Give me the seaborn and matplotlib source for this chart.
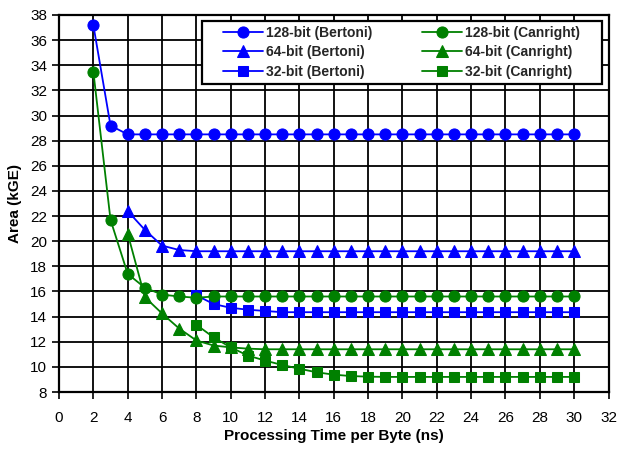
import numpy as np
import pandas as pd
import matplotlib
matplotlib.use("Agg")
import matplotlib.pyplot as plt
from matplotlib.path import Path
import seaborn as sns

# ---- data ----
x_b128 = list(range(2, 31))
b128 = [37.2, 29.2] + [28.5] * 27
x_c128 = list(range(2, 31))
c128 = [33.5, 21.7, 17.4, 16.3, 15.75, 15.6, 15.5] + [15.6] * 22
x_b64 = list(range(4, 31))
b64 = [22.4, 20.9, 19.65, 19.3] + [19.2] * 23
x_c64 = list(range(4, 31))
c64 = [20.6, 15.55, 14.25, 13.05, 12.1, 11.7, 11.55, 11.45] + [11.4] * 19
x_b32 = list(range(8, 31))
b32 = [15.7, 15.0, 14.7, 14.55, 14.45] + [14.35] * 18
x_c32 = list(range(8, 31))
c32 = [13.35, 12.35, 11.55, 10.9, 10.5, 10.15, 9.85, 9.57, 9.38, 9.27, 9.22] + [9.2] * 12

labels = ["128-bit (Bertoni)", "64-bit (Bertoni)", "32-bit (Bertoni)",
          "128-bit (Canright)", "64-bit (Canright)", "32-bit (Canright)"]
xticks = list(range(0, 33, 2))
yticks = list(range(8, 39, 2))

sns.set_theme(style="white")
plt.rcParams['font.family'] = ['Liberation Sans', 'DejaVu Sans']

W, H = 618, 453
AX_L, AX_R, AX_T, AX_B = 59, 608.5, 15, 392
fig = plt.figure(figsize=(W / 100, H / 100), dpi=100)
ax = fig.add_axes([AX_L / W, 1 - AX_B / H, (AX_R - AX_L) / W, (AX_B - AX_T) / H])

blue = (0, 0, 1)
green = (0, 0.5, 0)
series = [
    (x_b128, b128, blue, "o"),
    (x_b64, b64, blue, "^"),
    (x_b32, b32, blue, "s"),
    (x_c128, c128, green, "o"),
    (x_c64, c64, green, "^"),
    (x_c32, c32, green, "s"),
]
for (xs, ys, col, mk), lab in zip(series, labels):
    df = pd.DataFrame({"x": xs, "y": ys})
    sns.lineplot(data=df, x="x", y="y", ax=ax, color=col, marker=mk,
                 markersize=8 if mk != "s" else 7, markeredgecolor=col,
                 linewidth=1.3, label=lab, zorder=3)

ax.set_xlim(0, 32)
ax.set_ylim(8, 38)
ax.set_xticks(xticks)
ax.set_yticks(yticks)
ax.tick_params(axis="both", which="major", labelsize=11, direction="out",
               length=5, width=1.2, color="black", bottom=True, left=True,
               labelcolor="black")
ax.tick_params(axis="x", pad=8.5)
ax.tick_params(axis="y", pad=3.5)
ax.grid(True, color="black", linewidth=1.3)
for s in ax.spines.values():
    s.set_color("black")
    s.set_linewidth(1.6)
ax.set_xlabel("Processing Time per Byte (ns)", fontsize=11, fontweight="bold",
              color="black", labelpad=3)
ax.set_ylabel("Area (kGE)", fontsize=11, fontweight="bold", color="black",
              labelpad=6)

# legend frame with extra horizontal padding
def wide_box(x0, y0, width, height, mutation_size):
    hp = 1.19 * mutation_size
    verts = [(x0 - hp, y0), (x0 + width + hp, y0), (x0 + width + hp, y0 + height),
             (x0 - hp, y0 + height), (x0 - hp, y0)]
    codes = [Path.MOVETO, Path.LINETO, Path.LINETO, Path.LINETO, Path.CLOSEPOLY]
    return Path(verts, codes)

anchor_x = (585 - AX_L) / (AX_R - AX_L)
anchor_y = (AX_B - 20.7) / (AX_B - AX_T)
leg = ax.legend(loc="upper right", ncol=2, bbox_to_anchor=(anchor_x, anchor_y),
                borderaxespad=0,
                frameon=True, fancybox=False, edgecolor="black",
                framealpha=1, handlelength=2.88, columnspacing=3.6,
                handletextpad=0.2, borderpad=0.35, labelspacing=0.4,
                prop={"size": 10, "weight": "bold"})
leg.get_frame().set_boxstyle(wide_box)
leg.get_frame().set_linewidth(1.6)
leg.set_zorder(5)

fig.savefig("out.png", dpi=100)
